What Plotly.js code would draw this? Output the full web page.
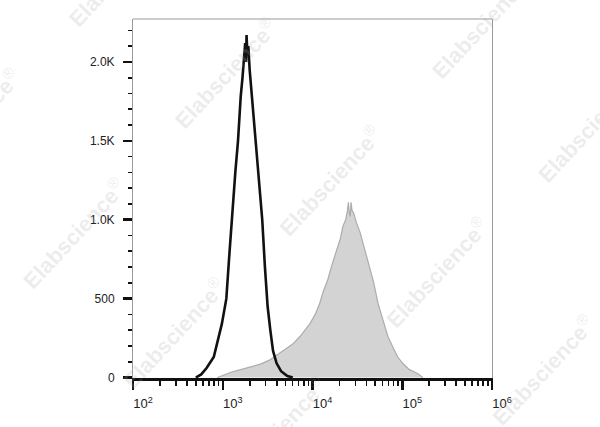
<!DOCTYPE html>
<html>
<head>
<meta charset="utf-8">
<script src="https://cdn.plot.ly/plotly-3.0.1.min.js"></script>
<style>html,body{margin:0;padding:0;background:#fff;}#chart{width:600px;height:427px;}</style>
</head>
<body>
<div id="chart"></div>
<script>
// Control (isotype) histogram: log10 fluorescence, counts
const controlLog = [2.70, 2.76, 2.82, 2.90, 2.99, 3.04, 3.07, 3.10, 3.14, 3.17, 3.19, 3.20, 3.22, 3.24, 3.25, 3.26, 3.265, 3.275, 3.285, 3.30, 3.33, 3.38, 3.44, 3.47, 3.50, 3.53, 3.56, 3.60, 3.65, 3.72, 3.78];
const controlCount = [0, 20, 60, 130, 340, 500, 750, 1000, 1300, 1500, 1750, 1780, 1900, 2050, 2120, 2000, 2170, 2050, 2100, 1950, 1750, 1380, 1000, 700, 450, 300, 170, 90, 40, 10, 0];

// Stained sample histogram
const sampleLog = [2.94, 3.00, 3.10, 3.20, 3.30, 3.42, 3.52, 3.62, 3.70, 3.78, 3.86, 3.92, 3.97, 4.03, 4.08, 4.12, 4.17, 4.22, 4.27, 4.31, 4.34, 4.37, 4.39, 4.40, 4.41, 4.42, 4.43, 4.44, 4.46, 4.49, 4.53, 4.58, 4.63, 4.68, 4.73, 4.79, 4.84, 4.90, 4.95, 5.01, 5.08, 5.17, 5.23];
const sampleCount = [0, 15, 35, 50, 65, 85, 110, 150, 180, 212, 260, 300, 340, 400, 470, 545, 620, 720, 810, 880, 960, 1000, 1060, 1110, 1040, 1020, 1110, 1060, 1040, 980, 920, 820, 720, 606, 470, 356, 260, 187, 130, 87, 50, 25, 0];

const xTickVals = [100, 1000, 10000, 100000, 1000000];
const xTickText = ['10<sup>2</sup>', '10<sup>3</sup>', '10<sup>4</sup>', '10<sup>5</sup>', '10<sup>6</sup>'];
const yTickVals = [0, 500, 1000, 1500, 2000];
const yTickText = ['0', '500', '1.0K', '1.5K', '2.0K'];

const toLin = a => a.map(v => Math.pow(10, v));

const minorX = [];
for (let d = 100; d < 1000000; d *= 10) for (let k = 2; k <= 9; k++) minorX.push(d * k);

const watermarkPos = [
  [119, -29], [225, 73], [330, 180], [437, 272], [543, 370],
  [-32, 123], [73, 233], [173, 333], [275, 433],
  [483, 23], [589, 127]
];

const annotations = watermarkPos.map(p => ({
  xref: 'paper', yref: 'paper',
  x: (p[0] - 132.5) / 360, y: (378.5 - p[1]) / 359.5,
  text: '<b>Elabscience</b><sup>®</sup>', showarrow: false,
  textangle: -47, font: {family: 'Liberation Sans, Arial, sans-serif', size: 22, color: 'rgba(170,170,170,0.22)'},
  xanchor: 'center', yanchor: 'middle'
}));

const traces = [
  {
    x: toLin(sampleLog), y: sampleCount, type: 'scatter', mode: 'lines',
    fill: 'tozeroy', fillcolor: '#d3d3d3',
    line: {color: '#acacac', width: 1.2}, hoverinfo: 'skip'
  },
  {
    x: toLin(controlLog), y: controlCount, type: 'scatter', mode: 'lines',
    line: {color: '#111111', width: 2.6}, hoverinfo: 'skip'
  }
];

const layout = {
  width: 600, height: 427,
  margin: {l: 132.5, r: 107.5, t: 19, b: 48.5, pad: 0},
  paper_bgcolor: '#ffffff', plot_bgcolor: '#ffffff',
  showlegend: false,
  font: {family: 'Liberation Sans, Arial, sans-serif', size: 12, color: '#222'},
  xaxis: {
    type: 'log', range: [2, 6], autorange: false,
    tickmode: 'array', tickvals: xTickVals, ticktext: xTickText,
    ticks: 'outside', ticklen: 9, tickwidth: 2.5, tickcolor: '#111',
    showline: true, linecolor: '#111', linewidth: 2.5, mirror: false,
    showgrid: false, zeroline: false,
    tickfont: {size: 13, color: '#222'},
    ticklabelstandoff: 3, ticklabelshift: 10,
    minor: {tickmode: 'array', tickvals: minorX, ticks: 'outside', ticklen: 5, tickwidth: 1.6, tickcolor: '#111', showgrid: false}
  },
  yaxis: {
    range: [-3, 2272], autorange: false,
    tickmode: 'array', tickvals: yTickVals, ticktext: yTickText,
    ticks: 'outside', ticklen: 9, tickwidth: 2.5, tickcolor: '#111',
    showline: true, linecolor: '#999', linewidth: 1, mirror: true,
    showgrid: false, zeroline: false,
    tickfont: {size: 12, color: '#222'},
    ticklabelstandoff: 6,
    minor: {dtick: 100, ticks: 'outside', ticklen: 4, tickwidth: 1.6, tickcolor: '#111', showgrid: false}
  },
  shapes: [
    {type: 'line', xref: 'paper', yref: 'paper', x0: 0, x1: 1, y0: 1, y1: 1, line: {color: '#999', width: 1}}
  ],
  annotations: annotations
};

Plotly.newPlot('chart', traces, layout, {staticPlot: true, displayModeBar: false});
</script>
</body>
</html>
